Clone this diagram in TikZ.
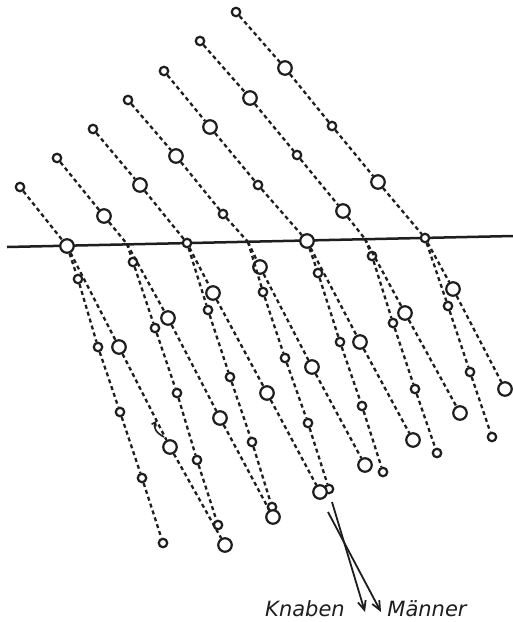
\documentclass[tikz,border=0pt]{standalone}
\usepackage{fontspec}
\newfontfamily\labfont{DejaVu Sans}
\usetikzlibrary{arrows.meta}
\definecolor{ink}{RGB}{30,30,30}
\begin{document}
\begin{tikzpicture}[x=1pt,y=-1pt,
  smallc/.style={circle,draw=ink,line width=2.2pt,fill=white,minimum size=8.5pt,inner sep=0pt},
  bigc/.style={circle,draw=ink,line width=2.2pt,fill=white,minimum size=13.5pt,inner sep=0pt},
  dl/.style={draw=ink,line width=2.3pt,dash pattern=on 4pt off 3.2pt},
  hline/.style={draw=ink,line width=2.5pt},
  arr/.style={draw=ink,line width=1.8pt,-{Straight Barb[length=9pt,width=8pt]}},
  lab/.style={text=ink,font=\labfont\itshape\fontsize{21}{21}\selectfont,anchor=base,inner sep=0pt}]
\useasboundingbox (0,0) rectangle (513,622);
\fill[white] (0,0) rectangle (513,622);

% horizontal line
\coordinate (hl0) at (7,247);
\coordinate (hl1) at (513,236);
\draw[hline] (hl0) -- (hl1);

% crossing points without circles
\coordinate (c1) at (127,244);
\coordinate (c3) at (248,242);
\coordinate (c5) at (365,239);

% ---- upper part ----
\node[smallc] (u00) at (20,187) {};
\node[bigc]   (X0)  at (67,246) {};

\node[smallc] (u10) at (57,158) {};
\node[bigc]   (u11) at (104,216) {};

\node[smallc] (u20) at (93,129) {};
\node[bigc]   (u21) at (140,185) {};
\node[smallc] (X2)  at (187,243) {};

\node[smallc] (u30) at (128,100) {};
\node[bigc]   (u31) at (176,156) {};
\node[smallc] (u32) at (223,214) {};

\node[smallc] (u40) at (164,71) {};
\node[bigc]   (u41) at (210,127) {};
\node[smallc] (u42) at (258,185) {};
\node[bigc]   (X4)  at (307,241) {};

\node[smallc] (u50) at (200,41) {};
\node[bigc]   (u51) at (250,98) {};
\node[smallc] (u52) at (297,155) {};
\node[bigc]   (u53) at (343,211) {};

\node[smallc] (u60) at (236,12) {};
\node[bigc]   (u61) at (285,68) {};
\node[smallc] (u62) at (332,126) {};
\node[bigc]   (u63) at (378,182) {};
\node[smallc] (X6)  at (425,238) {};

\draw[dl] (u00) -- (X0);
\draw[dl] (u10) -- (u11) -- (c1);
\draw[dl] (u20) -- (u21) -- (X2);
\draw[dl] (u30) -- (u31) -- (u32) -- (c3);
\draw[dl] (u40) -- (u41) -- (u42) -- (X4);
\draw[dl] (u50) -- (u51) -- (u52) -- (u53) -- (c5);
\draw[dl] (u60) -- (u61) -- (u62) -- (u63) -- (X6);

% ---- Knaben columns (small circles) ----
\node[smallc] (k01) at (78,279) {};
\node[smallc] (k02) at (98,347) {};
\node[smallc] (k03) at (120,412) {};
\node[smallc] (k04) at (142,478) {};
\node[smallc] (k05) at (163,543) {};

\node[smallc] (k11) at (133,262) {};
\node[smallc] (k12) at (155,328) {};
\node[smallc] (k13) at (177,393) {};
\node[smallc] (k14) at (197,460) {};
\node[smallc] (k15) at (218,525) {};

\node[smallc] (k21) at (208,310) {};
\node[smallc] (k22) at (230,377) {};
\node[smallc] (k23) at (252,442) {};
\node[smallc] (k24) at (272,507) {};

\node[smallc] (k31) at (263,292) {};
\node[smallc] (k32) at (285,358) {};
\node[smallc] (k33) at (308,423) {};
\node[smallc] (k34) at (329,489) {};

\node[smallc] (k41) at (318,273) {};
\node[smallc] (k42) at (340,342) {};
\node[smallc] (k43) at (362,406) {};
\node[smallc] (k44) at (383,472) {};

\node[smallc] (k51) at (372,256) {};
\node[smallc] (k52) at (393,323) {};
\node[smallc] (k53) at (415,389) {};
\node[smallc] (k54) at (437,453) {};

\node[smallc] (k61) at (448,306) {};
\node[smallc] (k62) at (470,372) {};
\node[smallc] (k63) at (492,437) {};

% ---- Maenner columns (big circles) ----
\node[bigc] (m01) at (119,347) {};
\node[bigc] (m02) at (170,447) {};
\node[bigc] (m03) at (225,545) {};

\node[bigc] (m11) at (168,318) {};
\node[bigc] (m12) at (220,418) {};
\node[bigc] (m13) at (273,517) {};

\node[bigc] (m21) at (213,293) {};
\node[bigc] (m22) at (267,393) {};
\node[bigc] (m23) at (320,492) {};

\node[bigc] (m31) at (260,267) {};
\node[bigc] (m32) at (312,367) {};
\node[bigc] (m33) at (365,465) {};

\node[bigc] (m41) at (360,342) {};
\node[bigc] (m42) at (413,440) {};

\node[bigc] (m51) at (405,313) {};
\node[bigc] (m52) at (460,413) {};

\node[bigc] (m61) at (453,289) {};
\node[bigc] (m62) at (505,389) {};

% Knaben connectors
\draw[dl] (X0) -- (k01) -- (k02) -- (k03) -- (k04) -- (k05);
\draw[dl] (c1) -- (k11) -- (k12) -- (k13) -- (k14) -- (k15);
\draw[dl] (X2) -- (k21) -- (k22) -- (k23) -- (k24);
\draw[dl] (c3) -- (k31) -- (k32) -- (k33) -- (k34);
\draw[dl] (X4) -- (k41) -- (k42) -- (k43) -- (k44);
\draw[dl] (c5) -- (k51) -- (k52) -- (k53) -- (k54);
\draw[dl] (X6) -- (k61) -- (k62) -- (k63);

% Maenner connectors
\draw[dl] (X0) -- (m01) -- (m02) -- (m03);
\draw[dl] (c1) -- (m11) -- (m12) -- (m13);
\draw[dl] (X2) -- (m21) -- (m22) -- (m23);
\draw[dl] (c3) -- (m31) -- (m32) -- (m33);
\draw[dl] (X4) -- (m41) -- (m42);
\draw[dl] (c5) -- (m51) -- (m52);
\draw[dl] (X6) -- (m61) -- (m62);

% small hooked mark
\coordinate (h0) at (164,437);
\coordinate (h1) at (156,421);
\draw[draw=ink,line width=1.6pt,-{Straight Barb[length=3.5pt,width=5pt]}] (h0) .. controls (156,433) and (153,427) .. (h1);

% direction arrows
\coordinate (ka) at (332,502);
\coordinate (kb) at (365,612);
\coordinate (ma) at (328,512);
\coordinate (mb) at (381,612);
\draw[arr] (ka) -- (kb);
\draw[arr] (ma) -- (mb);

\node[lab] (knaben) at (305,616) {Knaben};
\node[lab] (maenner) at (427,616) {Männer};
\end{tikzpicture}
\end{document}
